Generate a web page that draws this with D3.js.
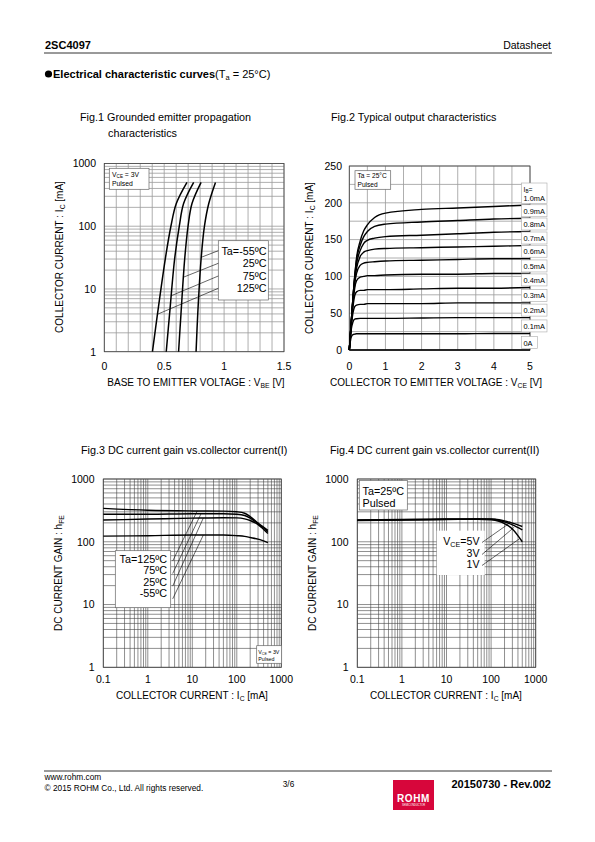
<!DOCTYPE html>
<html><head><meta charset="utf-8">
<script src="https://cdn.jsdelivr.net/npm/d3@7"></script>
<style>
body{margin:0;background:#fff;}
svg{display:block;font-family:"Liberation Sans",Arial,Helvetica,sans-serif;}
</style></head><body>
<svg id="page" width="595" height="842"></svg>
<script>
// ---------------- DATA ----------------
// Fig.1  Grounded emitter propagation characteristics (IC vs VBE, VCE=3V)
const fig1Currents = [1, 4, 30, 100, 230, 500];               // mA
const fig1Vbe125 = [0.402, 0.444, 0.509, 0.556, 0.601, 0.690]; // V
const fig1Vbe75  = [0.517, 0.545, 0.587, 0.626, 0.662, 0.746];
const fig1Vbe25  = [0.620, 0.640, 0.671, 0.699, 0.732, 0.808];
const fig1VbeM55 = [0.766, 0.780, 0.808, 0.836, 0.872, 0.928];
const fig1Legend = ["Ta=-55ºC", "25ºC", "75ºC", "125ºC"];
const fig1XTicks = [0, 0.5, 1, 1.5];
const fig1XTickLabels = ["0", "0.5", "1", "1.5"];
const logTicks1000 = [1, 10, 100, 1000];
const logTickLabels1000 = ["1", "10", "100", "1000"];

// Fig.2  Typical output characteristics (IC vs VCE)
const fig2Vce = [0, 0.05, 0.1, 0.15, 0.2, 0.3, 0.4, 0.5, 0.7, 1, 2, 3, 4, 5];
const fig2Ib10 = [0, 35, 70, 100, 125, 148, 162, 170, 180, 186, 191, 193, 195, 197];
const fig2Ib09 = [0, 35, 70, 100, 122, 142, 154, 161, 168, 171, 174, 176, 178, 179];
const fig2Ib08 = [0, 35, 70, 98, 117, 135, 145, 149, 152, 154, 156, 158, 160, 161];
const fig2Ib07 = [0, 35, 69, 95, 111, 127, 133, 135, 137, 138, 139, 140, 141, 142];
const fig2Ib06 = [0, 35, 67, 90, 104, 115, 118, 119, 120, 121, 122, 123, 124, 124];
const fig2Ib05 = [0, 34, 64, 84, 94, 99, 100, 101, 101, 102, 103, 103, 104, 104];
const fig2Ib04 = [0, 33, 58, 74, 79, 81, 81, 82, 82, 82, 83, 84, 84, 85];
const fig2Ib03 = [0, 31, 50, 59, 61, 62, 62, 63, 63, 63, 63, 64, 64, 64];
const fig2Ib02 = [0, 27, 38, 42, 42.5, 43, 43, 43, 43, 43, 43.5, 44, 44, 44];
const fig2Ib01 = [0, 17, 21, 21.5, 22, 22, 22, 22, 22, 22, 22, 22, 22.5, 22.5];
const fig2Ib00 = [0, 0, 0, 0, 0, 0, 0, 0, 0, 0, 0, 0, 0, 0];
const fig2Labels = ["1.0mA", "0.9mA", "0.8mA", "0.7mA", "0.6mA", "0.5mA", "0.4mA", "0.3mA", "0.2mA", "0.1mA", "0A"];
const fig2XTicks = [0, 1, 2, 3, 4, 5];
const fig2YTicks = [0, 50, 100, 150, 200, 250];

// Fig.3  DC current gain vs collector current (I)  (VCE=3V)
const fig3Ic = [0.1, 1, 10, 50, 100, 150, 200, 300, 500];
const fig3H125 = [340, 318, 310, 308, 300, 285, 252, 198, 152];
const fig3H75  = [275, 275, 280, 280, 275, 262, 238, 195, 145];
const fig3H25  = [222, 230, 238, 242, 240, 232, 218, 188, 135];
const fig3HM55 = [123, 125, 128, 128, 125, 122, 117, 110, 97];
const fig3Legend = ["Ta=125ºC", "75ºC", "25ºC", "-55ºC"];
const fig3LeaderIc = [12.9, 15.7, 17.7, 17.7];

// Fig.4  DC current gain vs collector current (II)  (Ta=25°C)
const fig4Ic = [0.1, 1, 10, 50, 100, 150, 200, 300, 500];
const fig4H5V = [222, 226, 230, 232, 230, 224, 215, 198, 175];
const fig4H3V = [220, 224, 228, 230, 228, 220, 208, 186, 155];
const fig4H1V = [218, 222, 226, 228, 224, 212, 195, 160, 100];
const fig4LeaderIc = [250, 330, 430];
const logXTicks = [0.1, 1, 10, 100, 1000];
const logXTickLabels = ["0.1", "1", "10", "100", "1000"];

// ---------------- DRAWING ----------------
const svg = d3.select("#page");
const GRID_LIGHT = "#9a9a9a";
const GRID_DARK = "#444";

function rich(g, x, y, parts, size, anchor, weight) {
  const t = g.append("text").attr("x", x).attr("y", y)
    .attr("font-size", size).attr("text-anchor", anchor || "start")
    .attr("font-weight", weight || "normal").attr("fill", "#000");
  let shifted = false;
  parts.forEach(p => {
    const s = t.append("tspan").text(p[0]);
    if (p[1] === "sub") {
      s.attr("font-size", size * 0.68).attr("dy", size * 0.22);
      shifted = true;
    } else if (shifted) {
      s.attr("dy", -size * 0.22);
      shifted = false;
    }
    if (p[2]) s.attr("font-weight", "bold");
  });
  return t;
}

function logMinors(lo, hi) {
  const out = [];
  for (let d = lo; d < hi * 0.999; d *= 10) {
    for (let i = 1; i <= 9; i++) out.push(d * i);
  }
  out.push(hi);
  return out;
}

function panel(box, xScale, yScale, xGrid, yGrid, gridColor, gridW) {
  const g = svg.append("g");
  g.append("rect").attr("x", box.l).attr("y", box.t)
    .attr("width", box.r - box.l).attr("height", box.b - box.t).attr("fill", "#fff");
  g.selectAll("line.gx").data(xGrid).join("line")
    .attr("x1", d => xScale(d)).attr("x2", d => xScale(d))
    .attr("y1", box.t).attr("y2", box.b)
    .attr("stroke", gridColor).attr("stroke-width", gridW);
  g.selectAll("line.gy").data(yGrid).join("line")
    .attr("y1", d => yScale(d)).attr("y2", d => yScale(d))
    .attr("x1", box.l).attr("x2", box.r)
    .attr("stroke", gridColor).attr("stroke-width", gridW);
  g.append("rect").attr("x", box.l).attr("y", box.t)
    .attr("width", box.r - box.l).attr("height", box.b - box.t)
    .attr("fill", "none").attr("stroke", "#444").attr("stroke-width", 0.8);
  return g;
}

function tickLabels(g, xScale, yScale, box, xT, xL, yT, yL, xLabY, yLabX) {
  xT.forEach((v, i) => g.append("text").attr("x", xScale(v)).attr("y", xLabY)
    .attr("font-size", 10.5).attr("text-anchor", "middle").text(xL[i]));
  yT.forEach((v, i) => g.append("text").attr("x", yLabX).attr("y", yScale(v) + 3.8)
    .attr("font-size", 10.5).attr("text-anchor", "end").text(yL[i]));
}

function yAxisTitle(x, yc, parts) {
  const g = svg.append("g").attr("transform", `translate(${x},${yc}) rotate(-90)`);
  rich(g, 0, 0, parts, 10, "middle");
}

function boxNote(g, x, y, w, h) {
  g.append("rect").attr("x", x).attr("y", y).attr("width", w).attr("height", h)
    .attr("fill", "#fff").attr("stroke", "#666").attr("stroke-width", 0.7);
}

// ---------- Header ----------
svg.append("text").attr("x", 45).attr("y", 49).attr("font-size", 11).attr("font-weight", "bold").text("2SC4097");
svg.append("text").attr("x", 551).attr("y", 49).attr("font-size", 10.5).attr("text-anchor", "end").text("Datasheet");
svg.append("line").attr("x1", 44).attr("x2", 552).attr("y1", 53).attr("y2", 53).attr("stroke", "#000").attr("stroke-width", 0.8);
svg.append("circle").attr("cx", 48.5).attr("cy", 74).attr("r", 3.6).attr("fill", "#000");
rich(svg, 53, 78, [["Electrical characteristic curves", null, true], ["(T"], ["a", "sub"], [" = 25°C)"]], 11, "start");

// ---------- Figure titles ----------
svg.append("text").attr("x", 80).attr("y", 121).attr("font-size", 10.8).text("Fig.1 Grounded emitter propagation");
svg.append("text").attr("x", 108).attr("y", 137).attr("font-size", 10.8).text("characteristics");
svg.append("text").attr("x", 331).attr("y", 121).attr("font-size", 10.8).text("Fig.2 Typical output characteristics");
svg.append("text").attr("x", 81).attr("y", 454).attr("font-size", 10.8).text("Fig.3 DC current gain vs.collector current(I)");
svg.append("text").attr("x", 330).attr("y", 454).attr("font-size", 10.8).text("Fig.4 DC current gain vs.collector current(II)");

// ---------- Fig.1 ----------
(function () {
  const box = {l: 104.3, r: 284, t: 163.5, b: 351.7};
  const x = d3.scaleLinear().domain([0, 1.5]).range([box.l, box.r]);
  const y = d3.scaleLog().domain([1, 1000]).range([box.b, box.t]);
  const g = panel(box, x, y, d3.range(0, 16).map(i => i / 10), logMinors(1, 1000), GRID_LIGHT, 0.8);
  const series = [fig1Vbe125, fig1Vbe75, fig1Vbe25, fig1VbeM55];
  const line = d3.line().x(d => x(d[0])).y(d => y(d[1])).curve(d3.curveCatmullRom.alpha(0.5));
  series.forEach(s => g.append("path").attr("d", line(s.map((v, i) => [v, fig1Currents[i]])))
    .attr("fill", "none").attr("stroke", "#000").attr("stroke-width", 1.5));
  boxNote(g, 109.3, 168.3, 39.7, 21);
  rich(g, 112, 176.5, [["V"], ["CE", "sub"], [" = 3V"]], 6.8, "start");
  g.append("text").attr("x", 112).attr("y", 186).attr("font-size", 6.8).text("Pulsed");
  boxNote(g, 218.3, 240.7, 50, 59.3);
  const rowsY = [250.7, 263.3, 276, 288.3];
  fig1Legend.forEach((t, i) => g.append("text").attr("x", 266.5).attr("y", rowsY[i] + 3.8)
    .attr("font-size", 10.8).attr("text-anchor", "end").text(t));
  const targets = [[fig1VbeM55, 32], [fig1Vbe25, 15.4], [fig1Vbe75, 7.8], [fig1Vbe125, 3.95]];
  targets.forEach((tg, i) => {
    const ic = tg[1];
    const vb = d3.scaleLog().domain(fig1Currents).range(tg[0])(ic);
    g.append("line").attr("x1", 218.3).attr("y1", rowsY[i])
      .attr("x2", x(vb)).attr("y2", y(ic)).attr("stroke", "#000").attr("stroke-width", 0.6);
  });
  tickLabels(svg, x, y, box, fig1XTicks, fig1XTickLabels, logTicks1000, logTickLabels1000, 370, 96);
  rich(svg, 196, 386, [["BASE TO EMITTER VOLTAGE : V"], ["BE", "sub"], [" [V]"]], 10, "middle");
  yAxisTitle(63, 257, [["COLLECTOR CURRENT : I"], ["C", "sub"], [" [mA]"]]);
})();

// ---------- Fig.2 ----------
(function () {
  const box = {l: 349.3, r: 530, t: 166, b: 350};
  const x = d3.scaleLinear().domain([0, 5]).range([box.l, box.r]);
  const y = d3.scaleLinear().domain([0, 250]).range([box.b, box.t]);
  const g = panel(box, x, y, d3.range(0, 11).map(i => i / 2), d3.range(0, 11).map(i => i * 25), GRID_LIGHT, 0.8);
  const series = [fig2Ib10, fig2Ib09, fig2Ib08, fig2Ib07, fig2Ib06, fig2Ib05, fig2Ib04, fig2Ib03, fig2Ib02, fig2Ib01, fig2Ib00];
  const line = d3.line().x(d => x(d[0])).y(d => y(d[1])).curve(d3.curveMonotoneX);
  series.forEach(s => g.append("path").attr("d", line(s.map((v, i) => [fig2Vce[i], v])))
    .attr("fill", "none").attr("stroke", "#000").attr("stroke-width", 1.4));
  series.forEach((s, i) => {
    const yy = y(s[s.length - 1]);
    const top = i === 0 ? yy - 22 : yy - 13.5;
    g.append("rect").attr("x", 521.5).attr("y", top).attr("width", i === 10 ? 16 : 25.5).attr("height", yy - 1.5 - top)
      .attr("fill", "#fff").attr("stroke", "#aaa").attr("stroke-width", 0.6);
    g.append("text").attr("x", 523.5).attr("y", yy - 4.5).attr("font-size", 7.4).text(fig2Labels[i]);
  });
  rich(g, 523.5, y(fig2Ib10[fig2Ib10.length - 1]) - 13.5, [["I"], ["B", "sub"], ["="]], 6.8, "start");
  boxNote(g, 355, 170.7, 35.7, 18.6);
  g.append("text").attr("x", 357.5).attr("y", 178).attr("font-size", 6.6).text("Ta = 25°C");
  g.append("text").attr("x", 357.5).attr("y", 186.5).attr("font-size", 6.6).text("Pulsed");
  tickLabels(svg, x, y, box, fig2XTicks, fig2XTicks.map(String), fig2YTicks, fig2YTicks.map(String), 370, 342);
  rich(svg, 436, 386, [["COLLECTOR TO EMITTER VOLTAGE : V"], ["CE", "sub"], [" [V]"]], 10, "middle");
  yAxisTitle(313, 258, [["COLLECTOR CURRENT : I"], ["C", "sub"], [" [mA]"]]);
})();

// ---------- Fig.3 ----------
(function () {
  const box = {l: 103.3, r: 281.3, t: 479, b: 667.3};
  const x = d3.scaleLog().domain([0.1, 1000]).range([box.l, box.r]);
  const y = d3.scaleLog().domain([1, 1000]).range([box.b, box.t]);
  const g = panel(box, x, y, logMinors(0.1, 1000), logMinors(1, 1000), GRID_DARK, 0.6);
  const series = [fig3H125, fig3H75, fig3H25, fig3HM55];
  const line = d3.line().x(d => x(d[0])).y(d => y(d[1])).curve(d3.curveMonotoneX);
  series.forEach(s => g.append("path").attr("d", line(s.map((v, i) => [fig3Ic[i], v])))
    .attr("fill", "none").attr("stroke", "#000").attr("stroke-width", 1.4));
  boxNote(g, 115.3, 550.7, 55.4, 57);
  const rowsY = [559, 570.3, 581.7, 593.3];
  fig3Legend.forEach((t, i) => g.append("text").attr("x", 167).attr("y", rowsY[i] + 3.8)
    .attr("font-size", 10.8).attr("text-anchor", "end").text(t));
  series.forEach((s, i) => {
    const ic = fig3LeaderIc[i];
    const h = d3.scaleLog().domain(fig3Ic).range(s)(ic);
    g.append("line").attr("x1", 172.7).attr("y1", rowsY[i] + 2 + i * 1.2)
      .attr("x2", x(ic)).attr("y2", y(h)).attr("stroke", "#000").attr("stroke-width", 0.6);
  });
  boxNote(g, 256.7, 645.7, 25, 17.6);
  rich(g, 258.3, 653.5, [["V"], ["CE", "sub"], [" = 3V"]], 5.3, "start");
  g.append("text").attr("x", 258.3).attr("y", 661.3).attr("font-size", 5.3).text("Pulsed");
  tickLabels(svg, x, y, box, logXTicks, logXTickLabels, logTicks1000, logTickLabels1000, 683, 94.5);
  rich(svg, 192, 699, [["COLLECTOR CURRENT : I"], ["C", "sub"], [" [mA]"]], 10, "middle");
  yAxisTitle(62, 573, [["DC CURRENT GAIN : h"], ["FE", "sub"]]);
})();

// ---------- Fig.4 ----------
(function () {
  const box = {l: 357.3, r: 535.7, t: 479, b: 667.3};
  const x = d3.scaleLog().domain([0.1, 1000]).range([box.l, box.r]);
  const y = d3.scaleLog().domain([1, 1000]).range([box.b, box.t]);
  const g = panel(box, x, y, logMinors(0.1, 1000), logMinors(1, 1000), GRID_DARK, 0.6);
  const series = [fig4H5V, fig4H3V, fig4H1V];
  const line = d3.line().x(d => x(d[0])).y(d => y(d[1])).curve(d3.curveMonotoneX);
  series.forEach(s => g.append("path").attr("d", line(s.map((v, i) => [fig4Ic[i], v])))
    .attr("fill", "none").attr("stroke", "#000").attr("stroke-width", 1.4));
  boxNote(g, 359.3, 480.5, 48, 29.5);
  g.append("text").attr("x", 362.5).attr("y", 494.5).attr("font-size", 10.8).text("Ta=25ºC");
  g.append("text").attr("x", 362.5).attr("y", 506.5).attr("font-size", 10.8).text("Pulsed");
  g.append("rect").attr("x", 436.7).attr("y", 530.7).attr("width", 48).attr("height", 44.3).attr("fill", "#fff");
  const rowsY = [541, 553, 564];
  rich(g, 479.5, rowsY[0] + 3.5, [["V"], ["CE", "sub"], ["=5V"]], 10.6, "end");
  g.append("text").attr("x", 479.5).attr("y", rowsY[1] + 4).attr("font-size", 10.6).attr("text-anchor", "end").text("3V");
  g.append("text").attr("x", 479.5).attr("y", rowsY[2] + 4).attr("font-size", 10.6).attr("text-anchor", "end").text("1V");
  series.forEach((s, i) => {
    const ic = fig4LeaderIc[i];
    const h = d3.scaleLog().domain(fig4Ic).range(s)(ic);
    g.append("line").attr("x1", 482).attr("y1", rowsY[i] + 1.5)
      .attr("x2", x(ic)).attr("y2", y(h) + 1.5).attr("stroke", "#000").attr("stroke-width", 0.6);
  });
  tickLabels(svg, x, y, box, logXTicks, logXTickLabels, logTicks1000, logTickLabels1000, 683, 348.5);
  rich(svg, 446, 699, [["COLLECTOR CURRENT : I"], ["C", "sub"], [" [mA]"]], 10, "middle");
  yAxisTitle(316, 573, [["DC CURRENT GAIN : h"], ["FE", "sub"]]);
})();

// ---------- Footer ----------
svg.append("line").attr("x1", 44).attr("x2", 552).attr("y1", 771).attr("y2", 771).attr("stroke", "#000").attr("stroke-width", 0.8);
svg.append("text").attr("x", 44.5).attr("y", 779.5).attr("font-size", 8.3).text("www.rohm.com");
svg.append("text").attr("x", 44.5).attr("y", 790.5).attr("font-size", 8.3).text("© 2015 ROHM Co., Ltd. All rights reserved.");
svg.append("text").attr("x", 288.5).attr("y", 787).attr("font-size", 8.3).attr("text-anchor", "middle").text("3/6");
svg.append("text").attr("x", 551).attr("y", 788).attr("font-size", 11).attr("font-weight", "bold").attr("text-anchor", "end").text("20150730 - Rev.002");
svg.append("rect").attr("x", 393).attr("y", 780).attr("width", 41).attr("height", 30).attr("fill", "#d7063b");
svg.append("text").attr("x", 413.5).attr("y", 801.5).attr("font-size", 10).attr("font-weight", "bold")
  .attr("fill", "#fff").attr("text-anchor", "middle").attr("letter-spacing", 0.6).text("ROHM");
svg.append("text").attr("x", 413.5).attr("y", 805.8).attr("font-size", 2.6)
  .attr("fill", "#fff").attr("text-anchor", "middle").text("SEMICONDUCTOR");
</script>
</body></html>
